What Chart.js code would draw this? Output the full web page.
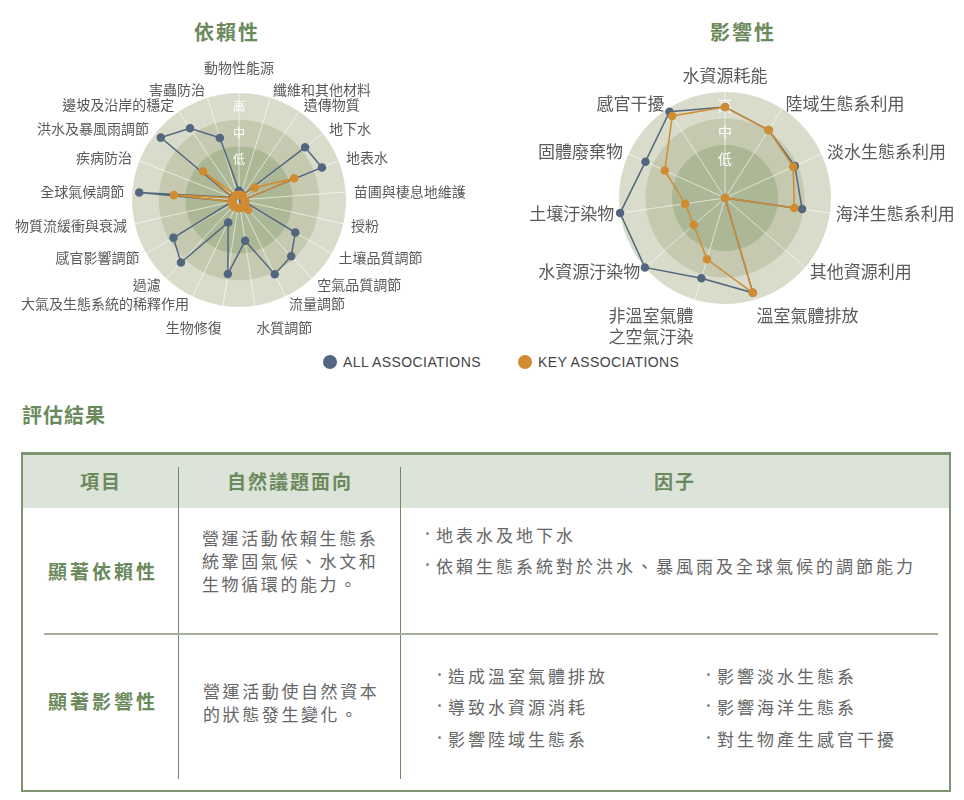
<!DOCTYPE html>
<html>
<head>
<meta charset="utf-8">
<script src="https://cdn.jsdelivr.net/npm/chart.js@4.4.1/dist/chart.umd.min.js"></script>
<style>
  body { margin: 0; background: #fff; font-family: "Noto Sans CJK TC", sans-serif; }
  #page { position: relative; width: 964px; height: 800px; overflow: hidden; }
  .ttl { position: absolute; color: #6b8a5c; font-weight: bold; font-size: 20px; letter-spacing: 2px; line-height: 1; }
  .box { position: absolute; }
  .legend { position: absolute; top: 353px; font-family: "Liberation Sans", Arial, sans-serif; font-size: 14px; letter-spacing: 0.4px; color: #444; line-height: 18px; }
  .legend span.dot { display: inline-block; width: 14px; height: 14px; border-radius: 50%; vertical-align: -2px; margin-right: 6px; }
  .tbl { position: absolute; left: 21px; top: 452px; width: 926px; height: 335px; border: 2px solid #7e9472; border-top-width: 3px; }
  .hdr { position: absolute; left: 0; top: 0; width: 100%; height: 53px; background: #dce3d8; }
  .vline { position: absolute; width: 1px; background: #6f8a62; top: 12px; height: 312px; }
  .hline { position: absolute; left: 21px; width: 894px; top: 178px; height: 2px; background: #a3ae9b; }
  .th { position: absolute; top: 12px; color: #6b8a5c; font-weight: bold; font-size: 19px; letter-spacing: 2px; text-align: center; line-height: 28px; }
  .rl { position: absolute; color: #6b8a5c; font-weight: bold; font-size: 19px; letter-spacing: 3px; line-height: 28px; }
  .txt { position: absolute; color: #666; font-size: 17px; letter-spacing: 2.6px; line-height: 23px; }
  .b { position: absolute; color: #666; font-size: 17px; letter-spacing: 3px; line-height: 24px; white-space: nowrap; }
  .b i { display: inline-block; width: 3px; height: 3px; border-radius: 50%; background: #8a8a8a; margin-right: 7px; vertical-align: 7px; }
</style>
</head>
<body>
<div id="page">
  <div class="ttl" style="left:194px;top:22px;">依賴性</div>
  <div class="ttl" style="left:710px;top:22px;">影響性</div>

  <div class="box" style="left:0px;top:50px;width:480px;height:300px;"><canvas id="dep"></canvas></div>
  <div class="box" style="left:482px;top:50px;width:482px;height:300px;"><canvas id="imp"></canvas></div>

  <div class="legend" style="left:323px;"><span class="dot" style="background:#52677f"></span>ALL ASSOCIATIONS</div>
  <div class="legend" style="left:518px;"><span class="dot" style="background:#d18c31"></span>KEY ASSOCIATIONS</div>

  <div class="ttl" style="left:22px;top:405px;letter-spacing:1px;">評估結果</div>

  <div class="tbl">
    <div class="hdr"></div>
    <div class="vline" style="left:155px;"></div>
    <div class="vline" style="left:377px;"></div>
    <div class="hline"></div>
    <div class="th" style="left:0;width:156px;">項目</div>
    <div class="th" style="left:156px;width:222px;">自然議題面向</div>
    <div class="th" style="left:378px;width:548px;">因子</div>

    <div class="rl" style="left:25px;top:102px;">顯著依賴性</div>
    <div class="txt" style="left:179px;top:71px;width:200px;">營運活動依賴生態系<br>統鞏固氣候、水文和<br>生物循環的能力。</div>
    <div class="b" style="left:403px;top:68px;"><i></i>地表水及地下水</div>
    <div class="b" style="left:403px;top:99px;"><i></i>依賴生態系統對於洪水、暴風雨及全球氣候的調節能力</div>

    <div class="rl" style="left:25px;top:232px;">顯著影響性</div>
    <div class="txt" style="left:180px;top:224px;width:200px;">營運活動使自然資本<br>的狀態發生變化。</div>
    <div class="b" style="left:415px;top:209px;"><i></i>造成溫室氣體排放</div>
    <div class="b" style="left:415px;top:240px;"><i></i>導致水資源消耗</div>
    <div class="b" style="left:415px;top:272px;"><i></i>影響陸域生態系</div>
    <div class="b" style="left:684px;top:209px;"><i></i>影響淡水生態系</div>
    <div class="b" style="left:684px;top:240px;"><i></i>影響海洋生態系</div>
    <div class="b" style="left:684px;top:272px;"><i></i>對生物產生感官干擾</div>
  </div>
</div>

<script>
// dependency radar (依賴性)
const depLabels = [
  '動物性能源', '纖維和其他材料', '遺傳物質', '地下水', '地表水',
  '苗圃與棲息地維護', '授粉', '土壤品質調節', '空氣品質調節', '流量調節',
  '水質調節', '生物修復', '大氣及生態系統的稀釋作用', '過濾', '感官影響調節',
  '物質流緩衝與衰減', '全球氣候調節', '疾病防治', '洪水及暴風雨調節',
  '邊坡及沿岸的穩定', '害蟲防治'
];
const depAll = [0.35, 0.25, 0.2, 3.16, 3.33, 0.15, 0.15, 2.43, 2.87, 3.08, 1.54, 2.8, 0.93, 3.19, 2.83, 0.25, 3.74, 0.25, 3.74, 3.25, 2.43];
const depKey = [0.2, 0.2, 0.2, 0.75, 2.22, 0.2, 0.25, 0.25, 0.5, 0.3, 0.3, 0.3, 0.3, 0.3, 0.3, 0.3, 2.44, 0.2, 1.72, 0.2, 0.2];

// impact radar (影響性)
const impLabels = [
  '水資源耗能', '陸域生態系利用', '淡水生態系利用', '海洋生態系利用', '其他資源利用',
  '溫室氣體排放', ['非溫室氣體', '之空氣汙染'], '水資源汙染物', '土壤汙染物', '固體廢棄物', '感官干擾'
];
const impAll = [3.43, 3.05, 2.9, 2.94, 0, 3.73, 3.16, 4.0, 4.0, 3.3, 3.87];
const impKey = [3.43, 3.05, 2.83, 2.64, 0, 3.73, 2.41, 1.56, 1.52, 2.5, 3.68];

// level bands and tick names
const levelValues = [1.5, 2.5, 3.5];
const levelNames = ['低', '中', '高'];
const bandValues = [4, 3, 2];
const bandColors = ['#dadccb', '#c4c9af', '#abb795'];

const BLUE = '#52677f';
const ORANGE = '#d18c31';
const FONT = '"Noto Sans CJK TC", sans-serif';

const bandsPlugin = {
  id: 'bands',
  beforeDraw(chart) {
    const r = chart.scales.r;
    const ctx = chart.ctx;
    ctx.save();
    bandValues.forEach((v, i) => {
      ctx.beginPath();
      ctx.arc(r.xCenter, r.yCenter, r.getDistanceFromCenterForValue(v), 0, Math.PI * 2);
      ctx.fillStyle = bandColors[i];
      ctx.fill();
    });
    ctx.restore();
  }
};

// axis names around the radar, placed from the scale's own point positions
const outerLabels = {
  id: 'outerLabels',
  afterDraw(chart, args, opts) {
    const r = chart.scales.r;
    const ctx = chart.ctx;
    const lh = opts.size * 1.2;
    ctx.save();
    ctx.font = `${opts.size}px ${FONT}`;
    ctx.fillStyle = '#5a5a5a';
    ctx.textBaseline = 'middle';
    chart.data.labels.forEach((label, i) => {
      const deg = r.getIndexAngle(i) * 180 / Math.PI;
      const p = r.getPointPosition(i, r.drawingArea + opts.gap);
      const lines = [].concat(label);
      const h = lines.length * lh;
      let align = 'center';
      if (deg > 1 && deg < 179) align = 'left';
      else if (deg > 181 && deg < 359) align = 'right';
      let y;
      if (deg < 1 || deg > 359) y = p.y - opts.topExtra - h;
      else if (deg > 160 && deg < 200) y = p.y + opts.bottomExtra;
      else y = p.y - h / 2;
      ctx.textAlign = align;
      lines.forEach((t, k) => ctx.fillText(t, p.x, y + lh * k + lh / 2));
    });
    ctx.restore();
  }
};

const makeRadar = (id, labels, allVals, keyVals, tickSize, pad, labelOpts) => {
  const ctx = document.getElementById(id).getContext('2d');
  return new Chart(ctx, {
    type: 'radar',
    data: {
      labels: labels,
      datasets: [
        {
          label: 'KEY ASSOCIATIONS', data: keyVals, order: 0,
          borderColor: ORANGE, backgroundColor: ORANGE,
          pointBackgroundColor: ORANGE, pointBorderColor: ORANGE,
          borderWidth: 1.5, pointRadius: 3.5, fill: false
        },
        {
          label: 'ALL ASSOCIATIONS', data: allVals, order: 1,
          borderColor: BLUE, backgroundColor: BLUE,
          pointBackgroundColor: BLUE, pointBorderColor: BLUE,
          borderWidth: 1.5, pointRadius: 3.5, fill: false
        }
      ]
    },
    options: {
      responsive: true,
      maintainAspectRatio: false,
      animation: false,
      layout: { padding: pad },
      plugins: {
        legend: { display: false },
        tooltip: { enabled: false },
        outerLabels: labelOpts
      },
      scales: {
        r: {
          min: 0,
          max: 4,
          grid: { display: false },
          angleLines: { color: 'rgba(255,255,255,0.6)', lineWidth: 1 },
          ticks: {
            stepSize: 0.5,
            showLabelBackdrop: false,
            color: '#ffffff',
            font: { family: FONT, size: tickSize },
            callback: (v) => {
              const i = levelValues.indexOf(v);
              return i >= 0 ? levelNames[i] : '';
            }
          },
          pointLabels: { display: false }
        }
      }
    },
    plugins: [bandsPlugin, outerLabels]
  });
};

makeRadar('dep', depLabels, depAll, depKey, 12,
  { left: 124, right: 126, top: 35, bottom: 35 },
  { size: 14, gap: 8, topExtra: 9, bottomExtra: 6 });
makeRadar('imp', impLabels, impAll, impKey, 14,
  { left: 128, right: 124, top: 33, bottom: 37 },
  { size: 17, gap: 6, topExtra: 0, bottomExtra: 0 });
</script>
</body>
</html>
